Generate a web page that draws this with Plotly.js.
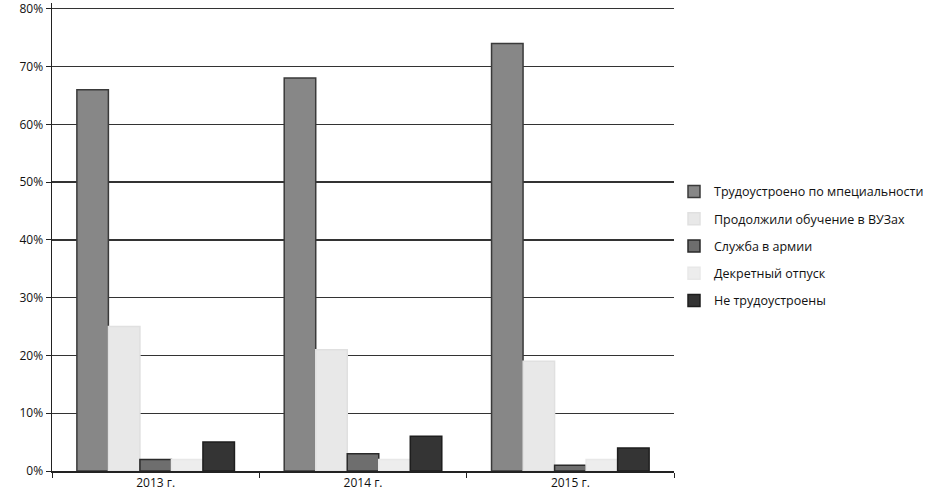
<!DOCTYPE html>
<html><head><meta charset="utf-8">
<script src="https://cdn.plot.ly/plotly-3.0.1.min.js"></script>
<style>body{margin:0;background:#fff}#c{width:930px;height:501px}</style>
</head><body><div id="c"></div>
<script>
const years = ["2013 г.", "2014 г.", "2015 г."];
const seriesNames = ["Трудоустроено по мпециальности", "Продолжили обучение в ВУЗах", "Служба в армии", "Декретный отпуск", "Не трудоустроены"];
const employed = [66, 68, 74];
const university = [25, 21, 19];
const army = [2, 3, 1];
const maternity = [2, 2, 2];
const unemployed = [5, 6, 4];
const yTicks = [0, 10, 20, 30, 40, 50, 60, 70, 80];

const allValues = [employed, university, army, maternity, unemployed];
const fills = ["#878787", "#e8e8e8", "#6e6e6e", "#ededed", "#343434"];
const borders = ["#3a3a3a", "#e0e0e0", "#2a2a2a", "#e8e8e8", "#1e1e1e"];

const traces = allValues.map((v, i) => ({
  type: "bar", x: years, y: v, name: seriesNames[i], legendgroup: "g" + i,
  marker: {color: fills[i], line: {color: borders[i], width: 1.5}}
}));

const layout = {
  width: 930, height: 501,
  margin: {l: 52, r: 256, t: 3, b: 30, autoexpand: false},
  paper_bgcolor: "#fff", plot_bgcolor: "#fff",
  font: {family: "Open Sans, Liberation Sans, sans-serif", size: 12, color: "#111"},
  barmode: "group", bargap: 0.24, bargroupgap: 0,
  showlegend: true,
  legend: {x: 1.0, y: 0.48, xanchor: "left", yanchor: "middle", font: {size: 12.5, color: "#111"}, tracegroupgap: 8, itemwidth: 30},
  xaxis: {type: "category", showline: true, linecolor: "#222", linewidth: 1.5, ticks: "outside", tickson: "boundaries", ticklen: 5, tickcolor: "#222", showgrid: false, tickfont: {size: 12}},
  yaxis: {range: [0, 81], tickvals: yTicks, ticktext: yTicks.map(t => t + "%"), ticklabeloverflow: "allow", showline: true, linecolor: "#222", linewidth: 1.5, ticks: "outside", ticklen: 5, tickcolor: "#222", gridcolor: "#333", gridwidth: 1.3, zeroline: false, tickfont: {size: 12}}
};
Plotly.newPlot("c", traces, layout, {displayModeBar: false, staticPlot: true});
</script></body></html>
